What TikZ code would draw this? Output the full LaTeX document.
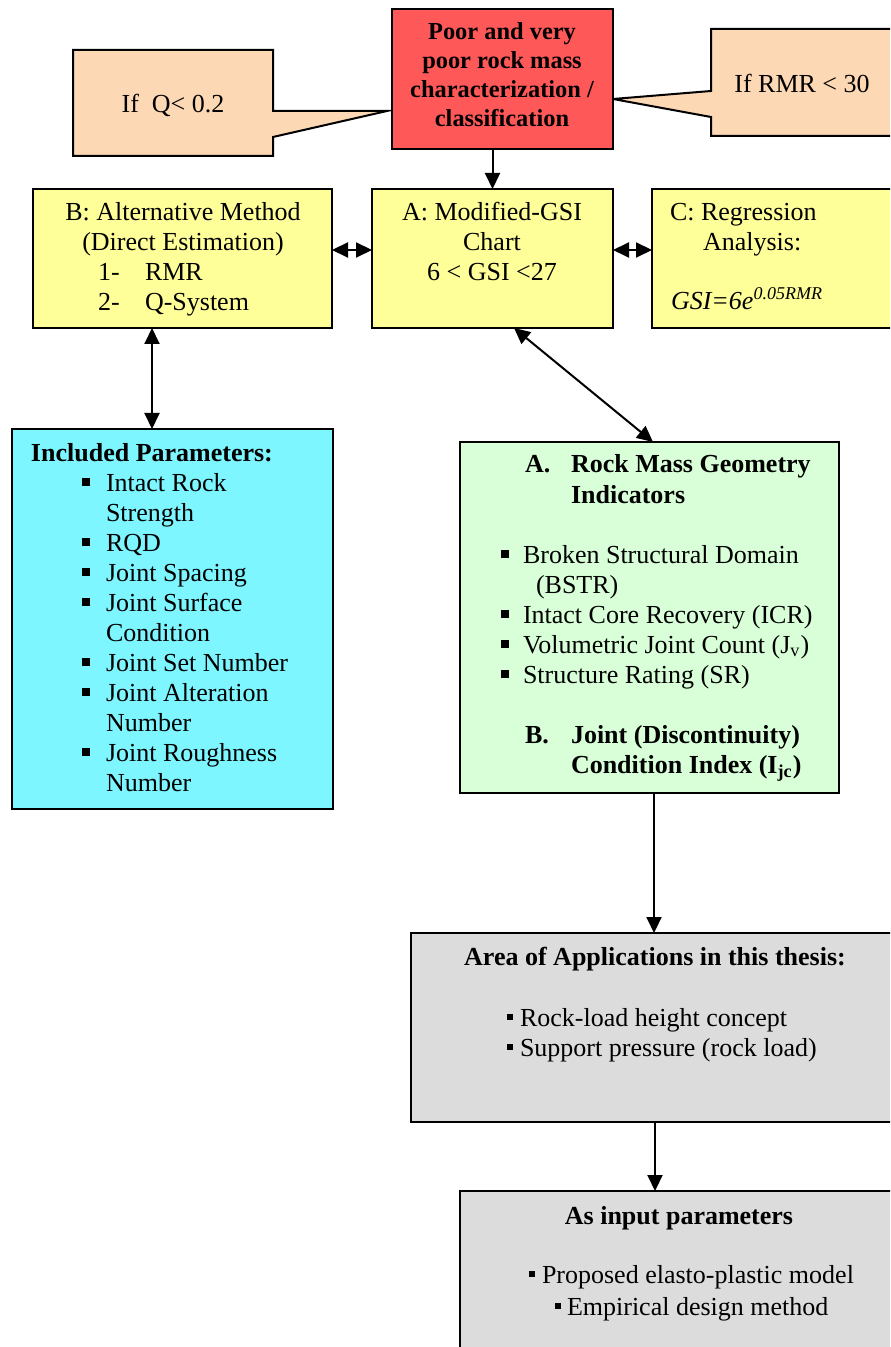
\documentclass[tikz,border=0pt]{standalone}
\usepackage{fontspec}
\setmainfont{Liberation Serif}
\usetikzlibrary{arrows.meta,calc}
\definecolor{redbox}{HTML}{FF5858}
\definecolor{peach}{HTML}{FDD8B5}
\definecolor{yell}{HTML}{FFFF99}
\definecolor{cyanbox}{HTML}{7DF6FF}
\definecolor{greenbox}{HTML}{D8FFD8}
\definecolor{graybox}{HTML}{DCDCDC}
\tikzset{
  box/.style={draw=black, line width=1pt, inner sep=0pt, outer sep=0pt},
  txt/.style={inner sep=0pt, outer sep=0pt, font=\fontsize{13}{15}\selectfont},
  btxt/.style={inner sep=0pt, outer sep=0pt, font=\fontsize{13}{15}\selectfont\bfseries},
  rtxt/.style={inner sep=0pt, outer sep=0pt, font=\fontsize{12.2}{14.5}\selectfont\bfseries},
  bul/.style={fill=black, inner sep=0pt, outer sep=0pt, minimum size=3.6pt},
  sbul/.style={fill=black, inner sep=0pt, outer sep=0pt, minimum size=3pt},
  conn/.style={line width=1pt, -{Triangle[length=8pt,width=7.5pt]}},
  dconn/.style={line width=1pt, {Triangle[length=8pt,width=7.5pt]}-{Triangle[length=8pt,width=7.5pt]}},
}
\newcommand\bx[6]{\node[box,fill=#6,minimum width={(#4-#2)*0.5pt},minimum height={(#5-#3)*0.5pt}] (#1) at ({(#2+#4)/2},{(#3+#5)/2}) {};}
\newcommand\Lt[5][txt]{\node[#1,anchor=base west] (#2) at (#3,#4) {#5};}
\newcommand\Ct[5][txt]{\node[#1,anchor=base] (#2) at (#3,#4) {#5};}
\newcommand\Bu[4][bul]{\node[#1] (#2) at (#3,#4-9) {};}
\begin{document}
\begin{tikzpicture}[x=0.5pt,y=-0.5pt]
\useasboundingbox (0,0) rectangle (890,1347);
\clip (0,0) rectangle (890,1347);
% callouts
\draw[box,fill=peach] (73,50) -- (273,50) -- (273,111) -- (387,111) -- (273,137) -- (273,156) -- (73,156) -- cycle;
\draw[box,fill=peach] (711,29) -- (905,29) -- (905,136) -- (711,136) -- (711,117) -- (613,99) -- (711,91) -- cycle;
% boxes
\bx{red}{392}{9}{613}{149}{redbox}
\bx{B}{33}{189}{332}{328}{yell}
\bx{A}{372}{189}{613}{328}{yell}
\bx{C}{652}{189}{905}{328}{yell}
\bx{cyan}{12}{429}{333}{809}{cyanbox}
\bx{green}{460}{442}{839}{793}{greenbox}
\bx{g1}{411}{933}{905}{1122}{graybox}
\bx{g2}{460}{1191}{905}{1365}{graybox}
% connectors
\coordinate (ym) at (0,250);
\coordinate (xb) at (152,0);
\coordinate (xa) at (514,0);
\coordinate (xg) at (653,0);
\coordinate (xg2) at (654,0);
\coordinate (xg3) at (655,0);
\draw[conn] (red.south -| A.north) -- (A.north);
\draw[dconn] (B.east |- ym) -- (A.west |- ym);
\draw[dconn] (A.east |- ym) -- (C.west |- ym);
\draw[dconn] (B.south -| xb) -- (cyan.north -| xb);
\draw[dconn] (A.south -| xa) -- (green.north -| xg);
\draw[conn] (green.south -| xg2) -- (g1.north -| xg2);
\draw[conn] (g1.south -| xg3) -- (g2.north -| xg3);
% callout texts
\Ct{tq}{173}{113}{If\ \ Q< 0.2}
\Ct{trmr}{802}{93}{If RMR < 30}
% red box
\Ct[rtxt]{r1}{502}{40}{Poor and very}
\Ct[rtxt]{r2}{502}{69}{poor rock mass}
\Ct[rtxt]{r3}{502}{98}{characterization /}
\Ct[rtxt]{r4}{502}{127}{classification}
% B box
\Ct{b1}{183}{221}{B: Alternative Method}
\Ct{b2}{183}{251}{(Direct Estimation)}
\Lt{b3n}{98}{281}{1-}
\Lt{b3}{145}{281}{RMR}
\Lt{b4n}{98}{311}{2-}
\Lt{b4}{145}{311}{Q-System}
% A box
\Ct{a1}{492}{221}{A: Modified-GSI}
\Ct{a2}{492}{251}{Chart}
\Ct{a3}{492}{281}{6 < GSI <27}
% C box
\Lt{c1}{670}{221}{C: Regression}
\Lt{c2}{703}{251}{Analysis:}
\Lt{c3}{671}{310}{\itshape GSI=6e\raisebox{5pt}{\fontsize{9}{10}\selectfont\itshape 0.05RMR}}
% cyan box
\Lt[btxt]{p0}{31}{461}{Included Parameters:}
\Bu{pb1}{86}{491}\Lt{p1}{106}{491}{Intact Rock}
\Lt{p1b}{106}{521}{Strength}
\Bu{pb2}{86}{551}\Lt{p2}{106}{551}{RQD}
\Bu{pb3}{86}{581}\Lt{p3}{106}{581}{Joint Spacing}
\Bu{pb4}{86}{611}\Lt{p4}{106}{611}{Joint Surface}
\Lt{p4b}{106}{641}{Condition}
\Bu{pb5}{86}{671}\Lt{p5}{106}{671}{Joint Set Number}
\Bu{pb6}{86}{701}\Lt{p6}{106}{701}{Joint Alteration}
\Lt{p6b}{106}{731}{Number}
\Bu{pb7}{86}{761}\Lt{p7}{106}{761}{Joint Roughness}
\Lt{p7b}{106}{791}{Number}
% green box
\Lt[btxt]{gA}{525}{473}{A.}
\Lt[btxt]{gA1}{571}{473}{Rock Mass Geometry}
\Lt[btxt]{gA2}{571}{503}{Indicators}
\Bu{gb1}{505}{563}\Lt{g1t}{523}{563}{Broken Structural Domain}
\Lt{g1tb}{536}{593}{(BSTR)}
\Bu{gb2}{505}{623}\Lt{g2t}{523}{623}{Intact Core Recovery (ICR)}
\Bu{gb3}{505}{653}\Lt{g3t}{523}{653}{Volumetric Joint Count (J\textsubscript{v})}
\Bu{gb4}{505}{683}\Lt{g4t}{523}{683}{Structure Rating (SR)}
\Lt[btxt]{gB}{525}{743}{B.}
\Lt[btxt]{gB1}{571}{743}{Joint (Discontinuity)}
\Lt[btxt]{gB2}{571}{773}{Condition Index (I\textsubscript{jc})}
% gray 1
\Ct[btxt]{h1}{655}{965}{Area of Applications in this thesis:}
\Bu[sbul]{hb1}{510}{1026}\Lt{h1a}{520}{1026}{Rock-load height concept}
\Bu[sbul]{hb2}{510}{1056}\Lt{h1b}{520}{1056}{Support pressure (rock load)}
% gray 2
\Ct[btxt]{k1}{679}{1224}{As input parameters}
\Bu[sbul]{kb1}{532}{1283}\Lt{k1a}{542}{1283}{Proposed elasto-plastic model}
\Bu[sbul]{kb2}{558}{1315}\Lt{k1b}{567}{1315}{Empirical design method}
\end{tikzpicture}
\end{document}
